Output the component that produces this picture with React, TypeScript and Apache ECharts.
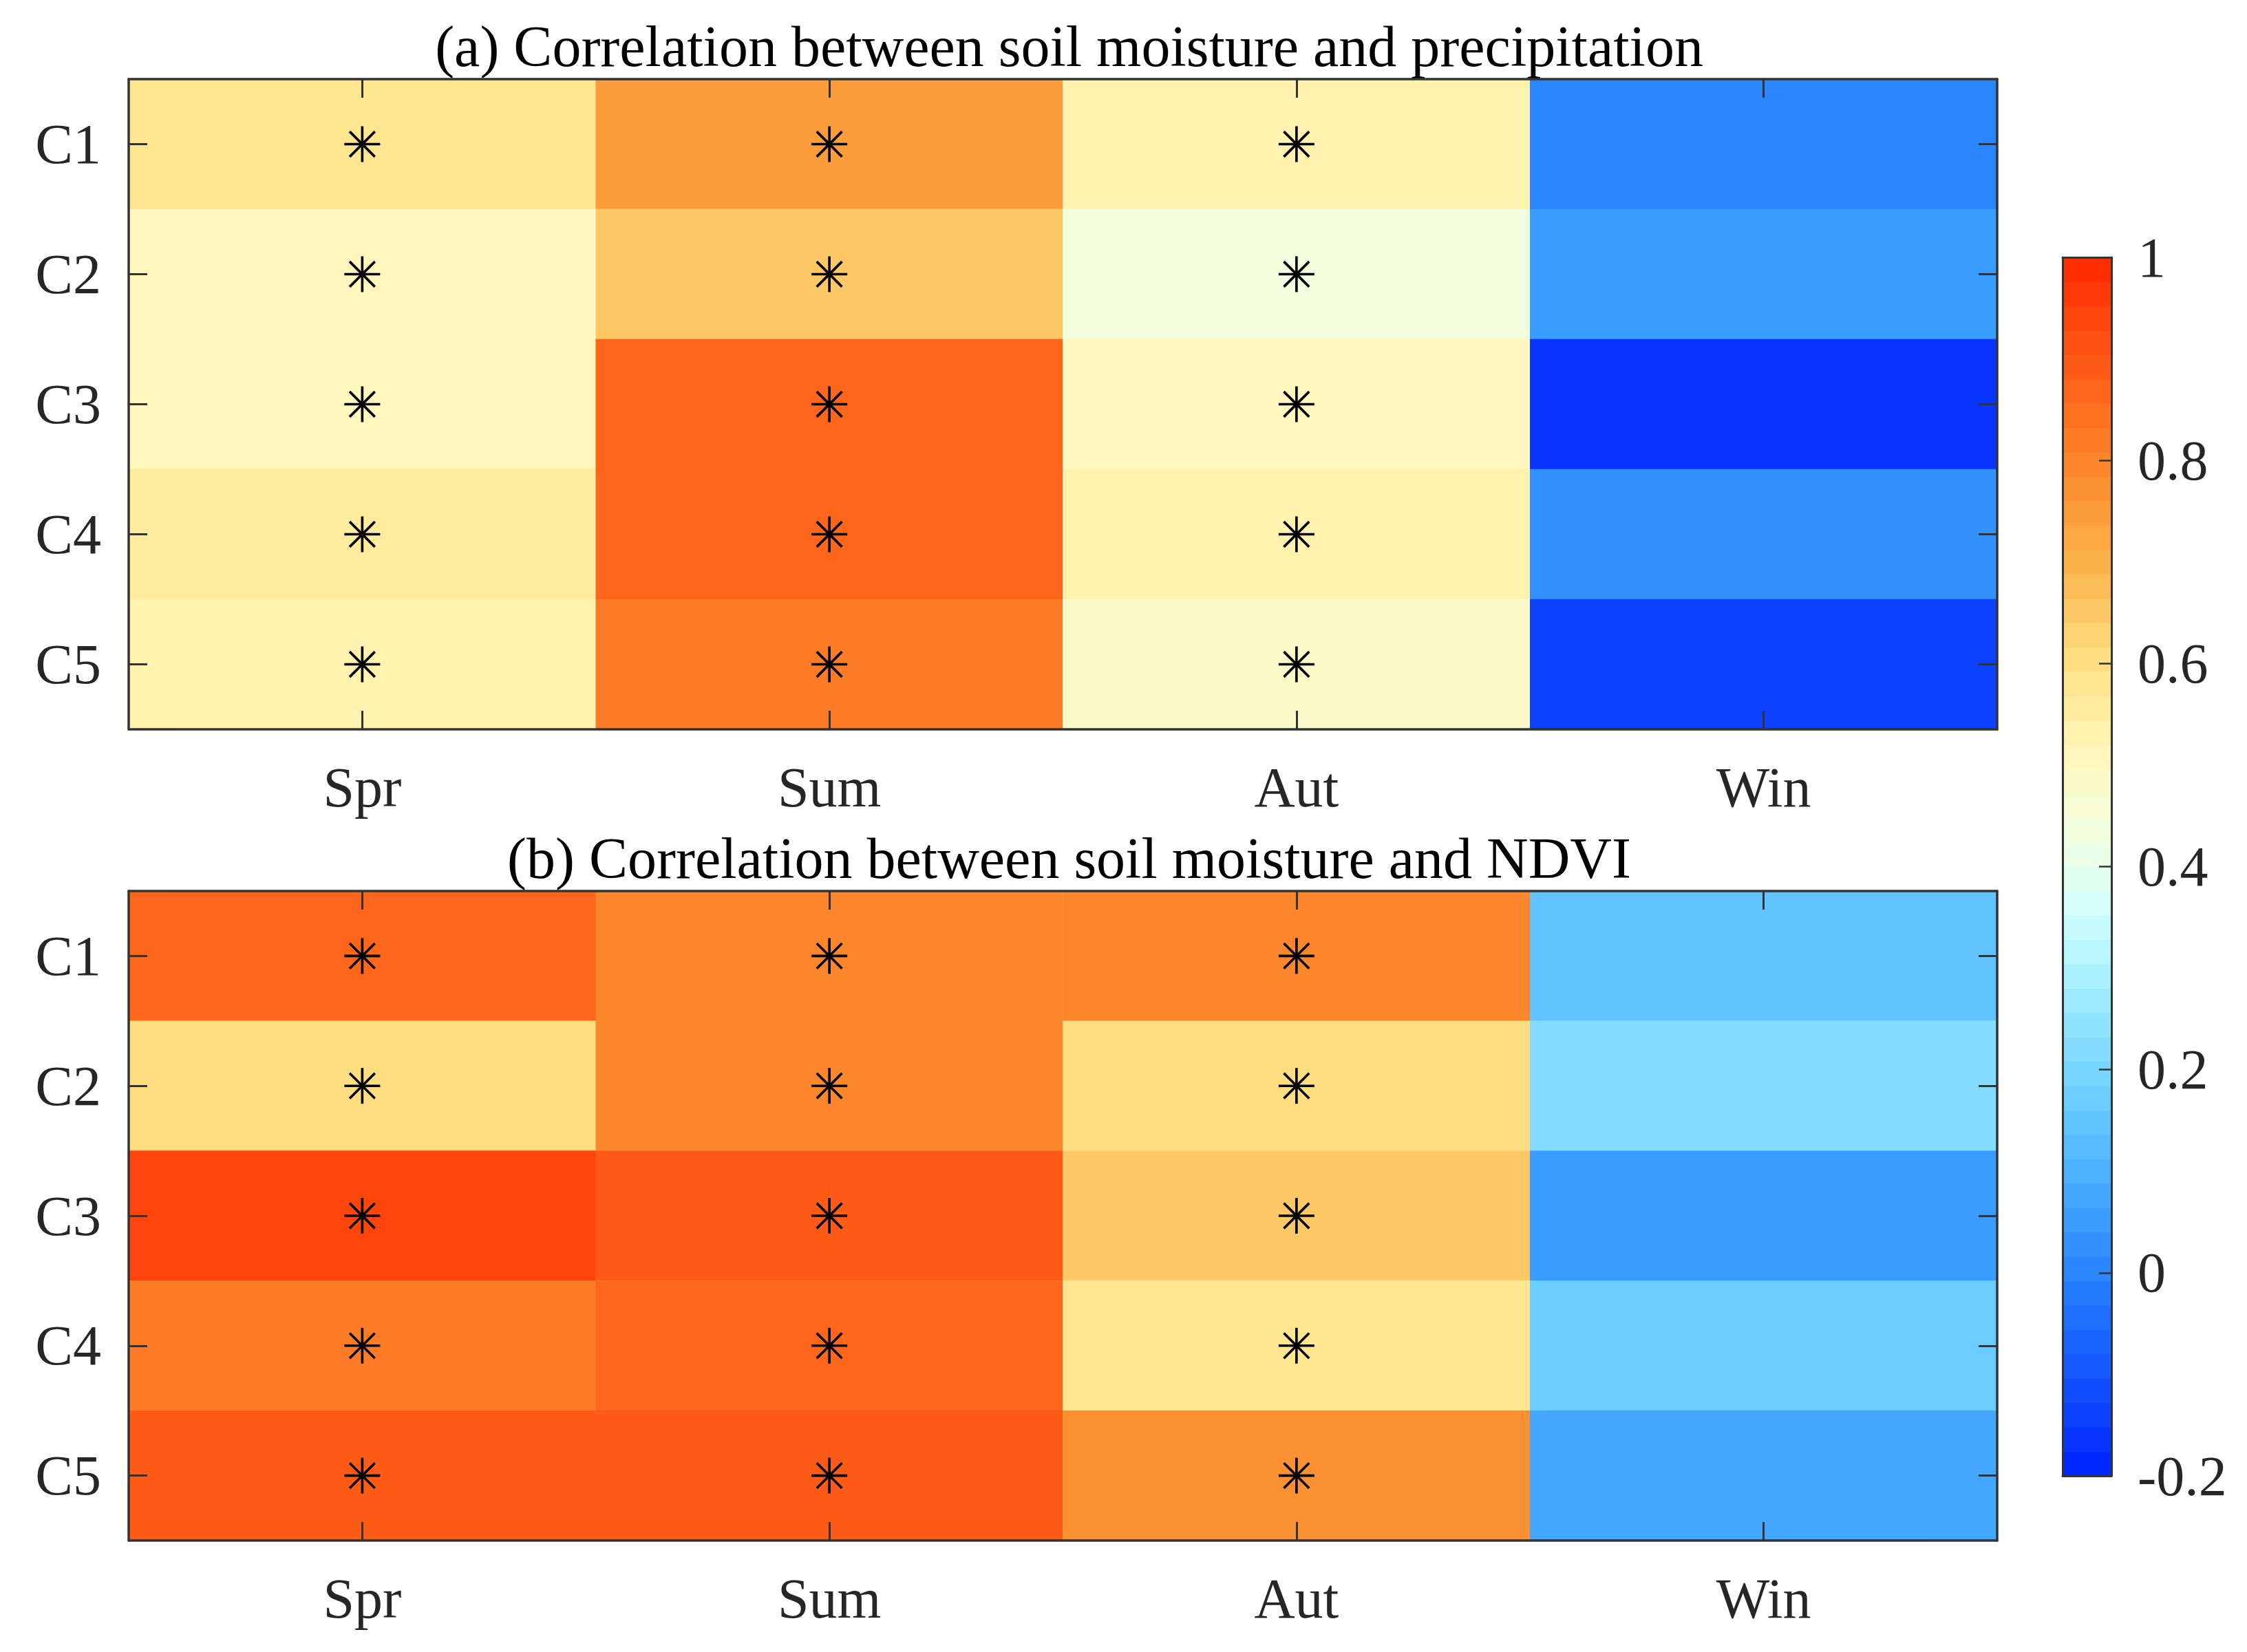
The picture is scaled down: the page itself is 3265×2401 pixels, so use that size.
import React, { useEffect, useRef } from "react";
import * as echarts from "echarts";

// ---- data ----
const seasons = ["Spr", "Sum", "Aut", "Win"];
const clusters = ["C1", "C2", "C3", "C4", "C5"];

// (a) soil moisture vs precipitation, per season, C1..C5
const precipSpr = [0.58, 0.5, 0.5, 0.55, 0.54];
const precipSum = [0.75, 0.65, 0.86, 0.86, 0.81];
const precipAut = [0.52, 0.43, 0.5, 0.52, 0.49];
const precipWin = [0.0, 0.06, -0.17, 0.02, -0.14];
const precipSig = [
  [1, 1, 1, 1, 1],
  [1, 1, 1, 1, 1],
  [1, 1, 1, 1, 1],
  [0, 0, 0, 0, 0],
];

// (b) soil moisture vs NDVI
const ndviSpr = [0.86, 0.61, 0.93, 0.83, 0.89];
const ndviSum = [0.8, 0.8, 0.89, 0.88, 0.89];
const ndviAut = [0.8, 0.61, 0.65, 0.59, 0.78];
const ndviWin = [0.14, 0.21, 0.05, 0.16, 0.07];
const ndviSig = [
  [1, 1, 1, 1, 1],
  [1, 1, 1, 1, 1],
  [1, 1, 1, 1, 1],
  [0, 0, 0, 0, 0],
];

const titleA = "(a) Correlation between soil moisture and precipitation";
const titleB = "(b) Correlation between soil moisture and NDVI";

// colour scale
const cbMin = -0.2;
const cbMax = 1;
const cbInterval = 0.2;
const cbLevels = 50;
const stopValues = [-0.2, -0.1, 0.0, 0.1, 0.2, 0.3, 0.36, 0.42, 0.5, 0.6, 0.7, 0.8, 0.9, 1.0];
const stopColors = [
  [0, 35, 255],
  [20, 85, 255],
  [40, 132, 255],
  [75, 178, 255],
  [120, 215, 255],
  [175, 242, 255],
  [212, 255, 252],
  [238, 255, 228],
  [255, 249, 194],
  [254, 224, 130],
  [252, 178, 74],
  [252, 132, 42],
  [254, 88, 20],
  [255, 40, 0],
];

function cmap(v: number): string {
  if (v <= stopValues[0]) return rgb(stopColors[0]);
  for (let i = 1; i < stopValues.length; i++) {
    if (v <= stopValues[i]) {
      const t = (v - stopValues[i - 1]) / (stopValues[i] - stopValues[i - 1]);
      const a = stopColors[i - 1];
      const b = stopColors[i];
      return rgb([a[0] + (b[0] - a[0]) * t, a[1] + (b[1] - a[1]) * t, a[2] + (b[2] - a[2]) * t]);
    }
  }
  return rgb(stopColors[stopColors.length - 1]);
}
function rgb(c: number[]): string {
  return `rgb(${Math.round(c[0])},${Math.round(c[1])},${Math.round(c[2])})`;
}

const bandW = (cbMax - cbMin) / cbLevels;
const bands: number[][] = [];
for (let i = 0; i < cbLevels; i++) bands.push([0.5, cbMin + i * bandW, cbMin + (i + 1) * bandW]);
const pieces = bands.map((b, i) => {
  const p: any = { gte: b[1], color: cmap((b[1] + b[2]) / 2) };
  if (i === cbLevels - 1) p.lte = b[2];
  else p.lt = b[2];
  return p;
});

function heatData(cols: number[][]) {
  const out: number[][] = [];
  cols.forEach((col, xi) => col.forEach((v, yi) => out.push([xi, yi, v])));
  return out;
}
function sigData(sig: number[][]) {
  const out: number[][] = [];
  sig.forEach((col, xi) => col.forEach((s, yi) => { if (s) out.push([xi, yi]); }));
  return out;
}

const FONT = "Liberation Serif";
const FS = 82;
const AX = "#333333";
const TXT = "#262626";

const GA = { left: 187, top: 115, width: 2715, height: 945 };
const GB = { left: 187, top: 1295, width: 2715, height: 944 };
const GC = { left: 2997, top: 374, width: 71, height: 1771 };

function catX(gridIndex: number, pos: "bottom" | "top") {
  return {
    type: "category",
    gridIndex,
    position: pos,
    data: seasons,
    z: 10,
    axisLine: { show: true, onZero: false, lineStyle: { color: AX, width: 3.5 } },
    axisTick: { show: true, inside: true, alignWithLabel: true, length: 27, lineStyle: { color: AX, width: 3 } },
    axisLabel: {
      show: pos === "bottom",
      margin: 43,
      color: TXT,
      fontFamily: FONT,
      fontSize: FS,
    },
    splitLine: { show: false },
  };
}
function catY(gridIndex: number, pos: "left" | "right") {
  return {
    type: "category",
    gridIndex,
    position: pos,
    data: clusters,
    inverse: true,
    z: 10,
    axisLine: { show: true, onZero: false, lineStyle: { color: AX, width: 3.5 } },
    axisTick: { show: true, inside: true, alignWithLabel: true, length: 27, lineStyle: { color: AX, width: 3 } },
    axisLabel: {
      show: pos === "left",
      margin: 40,
      color: TXT,
      fontFamily: FONT,
      fontSize: FS,
    },
    splitLine: { show: false },
  };
}

function asteriskRender(params: any, api: any) {
  const c = api.coord([api.value(0), api.value(1)]);
  const r = 26;
  const d = r * Math.SQRT1_2;
  const style = { stroke: "#000", lineWidth: 3.6, fill: null };
  return {
    type: "group",
    children: [
      { type: "line", shape: { x1: c[0] - r, y1: c[1], x2: c[0] + r, y2: c[1] }, style },
      { type: "line", shape: { x1: c[0], y1: c[1] - r, x2: c[0], y2: c[1] + r }, style },
      { type: "line", shape: { x1: c[0] - d, y1: c[1] - d, x2: c[0] + d, y2: c[1] + d }, style },
      { type: "line", shape: { x1: c[0] - d, y1: c[1] + d, x2: c[0] + d, y2: c[1] - d }, style },
    ],
  };
}

function colorbarRender(params: any, api: any) {
  const lo = api.value(1);
  const hi = api.value(2);
  const p1 = api.coord([0, hi]);
  const p2 = api.coord([1, lo]);
  return {
    type: "rect",
    shape: { x: p1[0], y: p1[1] - 0.4, width: p2[0] - p1[0], height: p2[1] - p1[1] + 0.8 },
    style: { fill: cmap((lo + hi) / 2), stroke: null },
  };
}

export default function App() {
  const ref = useRef<HTMLDivElement>(null);
  useEffect(() => {
    if (!ref.current) return;
    const chart = echarts.init(ref.current, undefined, { renderer: "svg" });
    const option: any = {
      animation: false,
      backgroundColor: "#ffffff",
      title: [
        {
          text: titleA,
          left: GA.left + GA.width / 2 + 4,
          top: 20,
          textAlign: "center",
          textStyle: { fontFamily: FONT, fontSize: 84, fontWeight: "normal", color: "#000" },
        },
        {
          text: titleB,
          left: GB.left + GB.width / 2 + 4,
          top: 1200,
          textAlign: "center",
          textStyle: { fontFamily: FONT, fontSize: 84, fontWeight: "normal", color: "#000" },
        },
      ],
      grid: [
        { ...GA, containLabel: false },
        { ...GB, containLabel: false },
        { ...GC, containLabel: false },
      ],
      xAxis: [
        catX(0, "bottom"),
        catX(0, "top"),
        catX(1, "bottom"),
        catX(1, "top"),
        {
          type: "value", gridIndex: 2, position: "bottom", min: 0, max: 1, z: 10,
          axisLine: { show: true, onZero: false, lineStyle: { color: AX, width: 3 } },
          axisTick: { show: false }, axisLabel: { show: false }, splitLine: { show: false },
        },
        {
          type: "value", gridIndex: 2, position: "top", min: 0, max: 1, z: 10,
          axisLine: { show: true, onZero: false, lineStyle: { color: AX, width: 3 } },
          axisTick: { show: false }, axisLabel: { show: false }, splitLine: { show: false },
        },
      ],
      yAxis: [
        catY(0, "left"),
        catY(0, "right"),
        catY(1, "left"),
        catY(1, "right"),
        {
          type: "value", gridIndex: 2, position: "right", min: cbMin, max: cbMax, interval: cbInterval, z: 10,
          axisLine: { show: true, onZero: false, lineStyle: { color: AX, width: 3 } },
          axisTick: { show: true, inside: true, length: 18, lineStyle: { color: AX, width: 2.5 } },
          axisLabel: { show: true, margin: 38, color: TXT, fontFamily: FONT, fontSize: FS, align: "left" },
          splitLine: { show: false },
        },
        {
          type: "value", gridIndex: 2, position: "left", min: cbMin, max: cbMax, z: 10,
          axisLine: { show: true, onZero: false, lineStyle: { color: AX, width: 3 } },
          axisTick: { show: false }, axisLabel: { show: false }, splitLine: { show: false },
        },
      ],
      visualMap: {
        type: "piecewise",
        show: false,
        seriesIndex: [0, 1],
        dimension: 2,
        pieces,
      },
      series: [
        {
          type: "heatmap",
          xAxisIndex: 0,
          yAxisIndex: 0,
          data: heatData([precipSpr, precipSum, precipAut, precipWin]),
          emphasis: { disabled: true },
          itemStyle: { borderWidth: 0 },
        },
        {
          type: "heatmap",
          xAxisIndex: 2,
          yAxisIndex: 2,
          data: heatData([ndviSpr, ndviSum, ndviAut, ndviWin]),
          emphasis: { disabled: true },
          itemStyle: { borderWidth: 0 },
        },
        {
          type: "custom",
          xAxisIndex: 0,
          yAxisIndex: 0,
          z: 5,
          encode: { x: 0, y: 1 },
          data: sigData(precipSig),
          renderItem: asteriskRender,
        },
        {
          type: "custom",
          xAxisIndex: 2,
          yAxisIndex: 2,
          z: 5,
          encode: { x: 0, y: 1 },
          data: sigData(ndviSig),
          renderItem: asteriskRender,
        },
        {
          type: "custom",
          xAxisIndex: 4,
          yAxisIndex: 4,
          encode: { x: 0, y: [1, 2] },
          data: bands,
          renderItem: colorbarRender,
        },
      ],
    };
    chart.setOption(option);
    return () => chart.dispose();
  }, []);
  return (
    <div
      ref={ref}
      style={{ position: "absolute", left: 0, top: 0, width: 3265, height: 2401, background: "#fff" }}
    />
  );
}
